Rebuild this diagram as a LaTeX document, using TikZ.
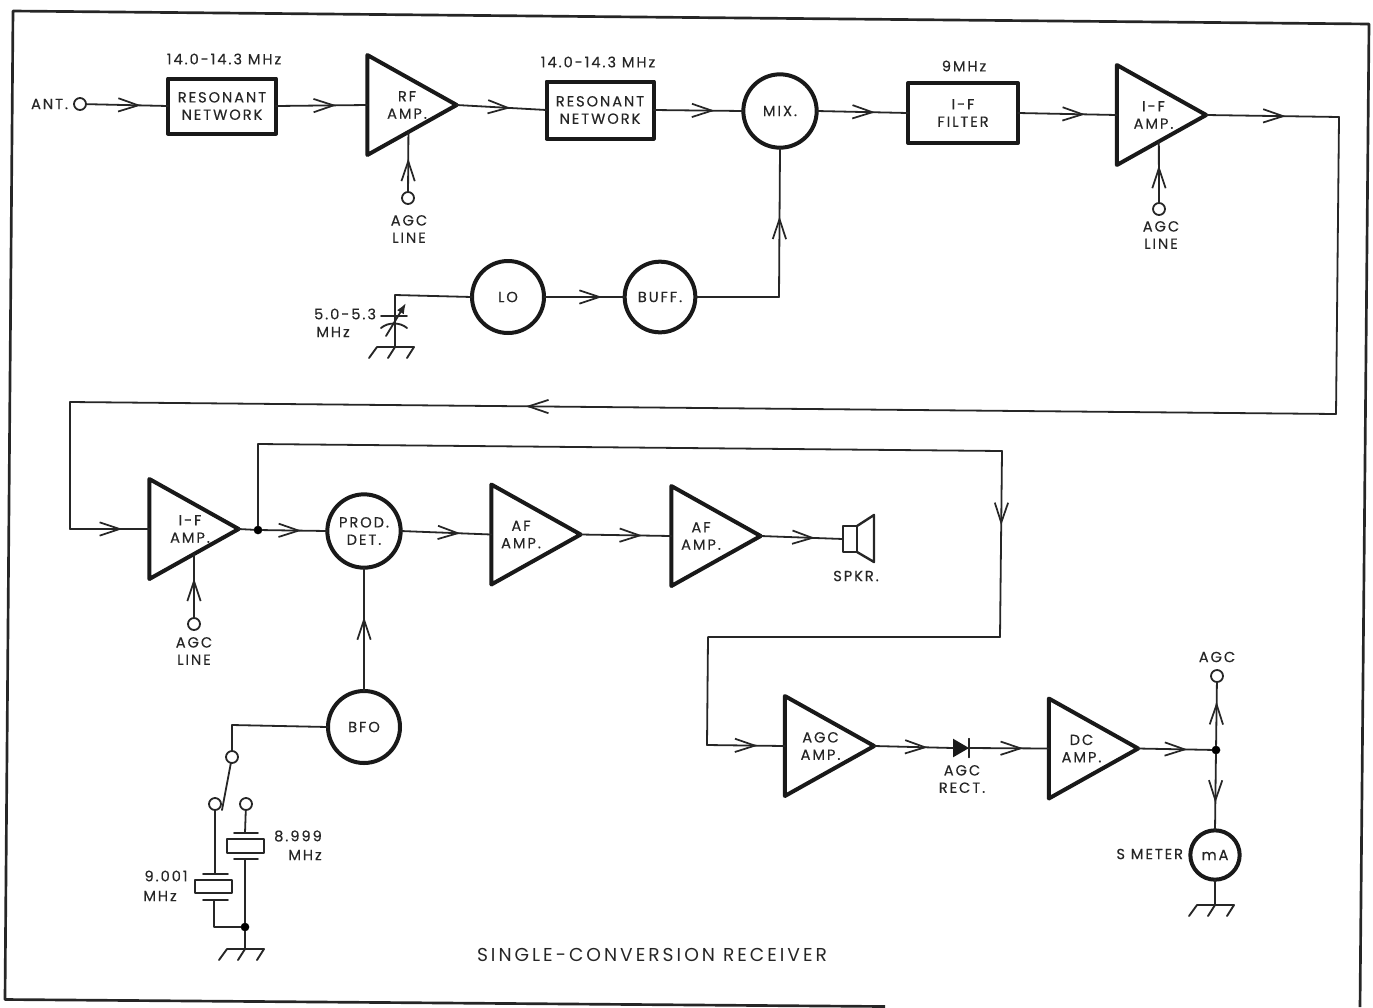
\documentclass[tikz,border=0pt]{standalone}
\usepackage{fontspec}
\setmainfont[LetterSpace=13,FakeBold=0.35]{Poppins}
\newfontfamily\titlefont[LetterSpace=16]{Poppins}
\usetikzlibrary{arrows.meta,decorations.markings,calc}
\tikzset{
 x=.75pt,y=-.75pt,
 every node/.style={inner sep=0pt,outer sep=0pt},
 wire/.style={line width=1.35pt,line cap=round,line join=round,draw=black!85},
 heavy/.style={line width=3pt,line join=round,draw=black!90},
 arr/.style={wire,postaction={decorate,decoration={markings,mark=at position #1 with {\arrow{Straight Barb[length=15pt,width=10pt,line width=1.3pt]}}}}},
 txt/.style={font=\fontsize{11}{13}\selectfont,align=center,text=black!85},
 boxn/.style={heavy,rectangle,anchor=center,txt},
 rnd/.style={heavy,circle,txt,fill=white},
 amp/.style={rectangle,minimum width=67pt,minimum height=75pt},
 term/.style={wire,circle,minimum size=9pt,fill=white},
 dot/.style={circle,fill=black,minimum size=6.5pt},
 gnd/.style={wire,line width=1.4pt},
 plate/.style={wire,line width=1.4pt},
 xtal/.style={wire,line width=1.6pt,rectangle,fill=white},
}
\newcommand{\ampl}[4]{%
 \node[amp] (#1) at (#2) {};
 \draw[heavy] (#1.north west)--(#1.south west)--(#1.east)--cycle;
 \node[txt] (#1t) at ($(#1.center)+(#3,0)$) {#4};}
\newcommand{\earth}[2]{%
 \draw[gnd] ($(#1)+(-18,0)$)--($(#1)+(19,0)$)
   ($(#1)+(-18,0)$)--($(#1)+(-26,11)$)
   ($(#1)+(0,0)$)--($(#1)+(-7,11)$)
   ($(#1)+(19,0)$)--($(#1)+(12,11)$);}
\begin{document}
\begin{tikzpicture}
\useasboundingbox (0,0) rectangle (1373,1007);
% frame
\draw[line width=2pt,draw=black!85,line join=round] (885,1006.5)--(5,999.5)--(13,11)--(1369,24)--(1360,1007);
% top row
\node[term] (ant) at (80,104) {};
\node[txt,anchor=east] (antl) at (68,104) {ANT.};
\node[boxn,draw,minimum width=108pt*.75,minimum height=55pt*.75] (res1) at (222,106) {RESONANT\\NETWORK};
\node[txt] (f1) at (224,59) {14.0-14.3 MHz};
\ampl{rf}{412,105}{-5}{RF\\AMP.}
\node[term] (agc1) at (408,198) {};
\node[txt] (agc1l) at (409,229) {AGC\\LINE};
\node[boxn,draw,minimum width=107pt*.75,minimum height=57pt*.75] (res2) at (600,110) {RESONANT\\NETWORK};
\node[txt] (f2) at (598,62) {14.0-14.3 MHz};
\node[rnd,draw,minimum size=55pt] (mix) at (780,111) {MIX.};
\node[boxn,draw,minimum width=110pt*.75,minimum height=60pt*.75] (filt) at (963,113) {I-F\\FILTER};
\node[txt] (f3) at (964,66) {9MHz};
\ampl{if1}{1161.5,115}{-8}{I-F\\AMP.}
\node[term] (agc2) at (1159,209) {};
\node[txt] (agc2l) at (1161,235) {AGC\\LINE};
\node[rnd,draw,minimum size=54pt] (lo) at (508,297) {LO};
\node[rnd,draw,minimum size=53pt] (buff) at (660,297) {BUFF.};
% tuning
\coordinate (tun) at (395,295);
\coordinate (tung) at (395,347);
\coordinate (c0) at (779,297);
\draw[wire] (lo.west)--(tun)--(tung);
\draw[plate] (381,316)--(407,316);
\draw[plate] (381,328) .. controls (388,322) and (400,322) .. (407,328);
\draw[wire,-{Latex[length=8pt,width=6pt]}] (386,336)--(406,303);
\earth{tung}{}
\node[txt,anchor=east] (tl1) at (376,314) {5.0-5.3};
\node[txt] (tl2) at (333,332) {MHz};
\draw[arr=.67] (ant)--(res1.west);
\draw[arr=.66] (res1.east)--(rf.west);
\draw[arr=.6] (rf.east)--(res2.west);
\draw[arr=.68] (res2.east)--(mix.west);
\draw[arr=.64] (mix.east)--(filt.west);
\draw[arr=.68] (filt.east)--(if1.west);
\draw[arr=.56] (agc1)--($(rf.south west)!.46!(rf.east)$);
\draw[arr=.61] (agc2)--($(if1.south west)!.47!(if1.east)$);
\draw[arr=.72] (lo.east)--(buff.west);
\draw[wire] (buff.east)--(c0);
\draw[arr=.54] (c0)--(mix.south);
% feedback wiring
\coordinate (c1) at (1339,117);
\coordinate (c2) at (1336,414);
\coordinate (c3) at (70,402);
\coordinate (c4) at (70,529);
\ampl{if2}{194,529}{-4}{I-F\\AMP.}
\draw[arr=.6] (if1.east)--(c1);
\draw[wire] (c1)--(c2);
\draw[arr=.64] (c2)--(c3);
\draw[wire] (c3)--(c4);
\draw[arr=.66] (c4)--(if2.west);
% second row
\node[dot] (j) at (258,530) {};
\node[rnd,draw,minimum size=55pt] (prod) at (364,531) {PROD.\\DET.};
\ampl{af1}{536,534.5}{-15}{AF\\AMP.}
\ampl{af2}{716,536}{-15}{AF\\AMP.}
\node[term] (agc3) at (194,624) {};
\node[txt] (agc3l) at (194,651) {AGC\\LINE};
\node[wire,draw,rectangle,minimum width=10.5pt,minimum height=19.5pt] (spk) at (850,539) {};
\draw[wire,line width=1.8pt] (spk.north east)--(874,515)--(874,562)--(spk.south east);
\node[txt] (spkl) at (856,576) {SPKR.};
\draw[wire] (if2.east)--(j);
\draw[arr=.6] (j)--(prod.west);
\draw[arr=.66] (prod.east)--(af1.west);
\draw[arr=.68] (af1.east)--(af2.west);
\draw[arr=.66] (af2.east)--(spk.west);
\draw[arr=.62] (agc3)--($(if2.south west)!.5!(if2.east)$);
% BFO and crystals
\node[rnd,draw,minimum size=54pt] (bfo) at (364,727) {BFO};
\draw[arr=.6] (bfo.north)--(prod.south);
\coordinate (b1) at (232,725);
\node[term] (sw) at (232,757) {};
\node[term] (k1) at (215,804) {};
\node[term] (k2) at (246,804) {};
\draw[wire] (bfo.west)--(b1)--(sw);
\draw[wire] (sw)--(222,810);
\node[xtal,draw,minimum width=27.5pt,minimum height=9.5pt] (x1) at (213.5,886.5) {};
\node[xtal,draw,minimum width=27.5pt,minimum height=10.5pt] (x2) at (245.5,846) {};
\node[dot] (j2) at (245,927) {};
\coordinate (g2) at (245,949);
\coordinate (b2) at (214,927);
\draw[wire] (k1)--(215,874);
\draw[plate] (203,874)--(228,874);
\draw[plate] (203,900)--(228,900);
\draw[wire] (214,900)--(b2)--(j2);
\draw[wire] (k2)--(245,833);
\draw[plate] (234,833)--(258,833);
\draw[plate] (234,859)--(258,859);
\draw[wire] (245,859)--(j2)--(g2);
\earth{g2}{}
\node[txt] (x2a) at (298,836) {8.999};
\node[txt] (x2b) at (305,855) {MHz};
\node[txt] (x1a) at (166,876) {9.001};
\node[txt] (x1b) at (160,896) {MHz};
% AGC chain
\ampl{agc}{829.5,746}{-9}{AGC\\AMP.}
\ampl{dc}{1093.5,748.5}{-12}{DC\\AMP.}
\node[minimum width=12pt,minimum height=14pt] (dio) at (961,748) {};
\fill[black!90] (dio.north west)--(dio.east)--(dio.south west)--cycle;
\draw[wire] (dio.east |- dio.north)--(dio.east |- dio.south);
\node[txt] (diol) at (962,779) {AGC\\RECT.};
\coordinate (c5) at (258,444);
\coordinate (c6) at (1002,451);
\coordinate (c7) at (1000,637);
\coordinate (c8) at (708,637);
\coordinate (c9) at (707,745);
\draw[wire] (j)--(c5)--(c6);
\draw[arr=.4] (c6)--(c7);
\draw[wire] (c7)--(c8)--(c9);
\draw[arr=.65] (c9)--(agc.west);
\draw[arr=.68] (agc.east)--(dio.west);
\draw[arr=.68] (dio.east)--(dc.west);
\node[dot] (j3) at (1216,750) {};
\node[term] (agco) at (1217,676) {};
\node[txt] (agcol) at (1217,657) {AGC};
\node[rnd,draw,minimum size=37pt] (ma) at (1215,855) {mA};
\node[txt,anchor=east] (sm) at (1183,854) {S METER};
\coordinate (g3) at (1215,905);
\draw[arr=.67] (dc.east)--(j3);
\draw[arr=.69] (j3)--(agco);
\draw[arr=.64] (j3)--(ma.north);
\draw[wire] (ma.south)--(g3);
\earth{g3}{}
\node[txt,font=\titlefont\fontsize{14}{16}\selectfont] (title) at (652,955) {SINGLE-CONVERSION RECEIVER};
\end{tikzpicture}
\end{document}
